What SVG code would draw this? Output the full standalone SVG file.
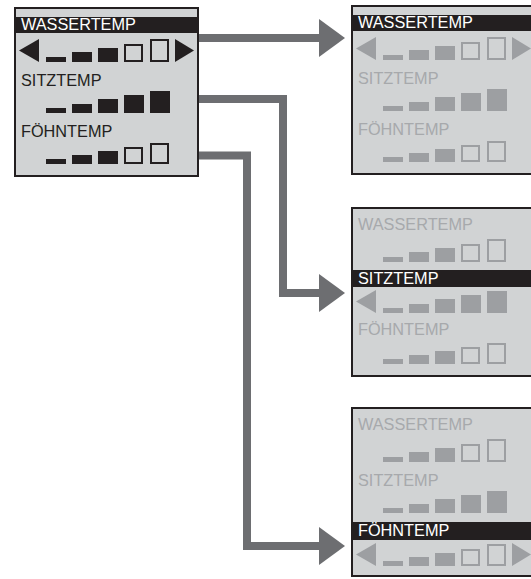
<svg xmlns="http://www.w3.org/2000/svg" width="531" height="579" viewBox="0 0 531 579">
<style>
text{font-family:"Liberation Sans",Arial,sans-serif;font-size:16.3px}
.panel{fill:#d1d3d4;stroke:#231f20;stroke-width:2}
.hdr{fill:#231f20}
.ht{fill:#ffffff}
.dt{fill:#231f20}
.gt{fill:#a7a9ac}
.dk{fill:#231f20}
.dko{fill:none;stroke:#231f20;stroke-width:2}
.gr{fill:#9d9fa2}
.gro{fill:none;stroke:#9d9fa2;stroke-width:2}
.conn{fill:none;stroke:#6d6e71;stroke-width:8;stroke-linejoin:miter}
</style>
<defs>
<marker id="ah" viewBox="0 0 26 38" refX="0" refY="19" markerWidth="26" markerHeight="38" markerUnits="userSpaceOnUse" orient="auto">
<polygon points="0,0 26,19 0,38" fill="#6d6e71"/>
</marker>
</defs>

<g id="connectors">
<path class="conn" d="M199,38 H319" marker-end="url(#ah)"/>
<path class="conn" d="M199,99 H283 V293 H319" marker-end="url(#ah)"/>
<path class="conn" d="M199,155.5 H247 V546 H319" marker-end="url(#ah)"/>
</g>

<g id="panel-main">
<rect class="panel" x="15" y="8" width="183" height="168"/>
<rect class="hdr" x="16" y="17" width="181" height="16"/>
<text class="ht" x="21" y="30">WASSERTEMP</text>
<polygon class="dk" points="19,50.5 39,39 39,62"/>
<rect class="dk" x="46" y="57" width="20" height="5"/>
<rect class="dk" x="72" y="52" width="20" height="10"/>
<rect class="dk" x="98" y="48" width="20" height="14"/>
<rect class="dko" x="125" y="45" width="17" height="16"/>
<rect class="dko" x="151" y="40" width="17" height="21"/>
<polygon class="dk" points="175,39 175,62 194,50.5"/>
<text class="dt" x="21" y="86">SITZTEMP</text>
<rect class="dk" x="46" y="108" width="20" height="5"/>
<rect class="dk" x="72" y="104" width="20" height="9"/>
<rect class="dk" x="98" y="99" width="20" height="14"/>
<rect class="dk" x="124" y="95" width="20" height="18"/>
<rect class="dk" x="150" y="91" width="20" height="22"/>
<text class="dt" x="21" y="137">FÖHNTEMP</text>
<rect class="dk" x="46" y="159" width="20" height="5"/>
<rect class="dk" x="72" y="155" width="20" height="9"/>
<rect class="dk" x="98" y="151" width="20" height="13"/>
<rect class="dko" x="125" y="148" width="17" height="15"/>
<rect class="dko" x="151" y="144" width="17" height="19"/>
</g>

<g id="panel-wasser" transform="translate(337,-2)">
<rect class="panel" x="15" y="8" width="183" height="168"/>
<rect class="hdr" x="16" y="17" width="181" height="16"/>
<text class="ht" x="21" y="30">WASSERTEMP</text>
<polygon class="gr" points="19,50.5 39,39 39,62"/>
<rect class="gr" x="46" y="57" width="20" height="5"/>
<rect class="gr" x="72" y="52" width="20" height="10"/>
<rect class="gr" x="98" y="48" width="20" height="14"/>
<rect class="gro" x="125" y="45" width="17" height="16"/>
<rect class="gro" x="151" y="40" width="17" height="21"/>
<polygon class="gr" points="175,39 175,62 194,50.5"/>
<text class="gt" x="21" y="86">SITZTEMP</text>
<rect class="gr" x="46" y="108" width="20" height="5"/>
<rect class="gr" x="72" y="104" width="20" height="9"/>
<rect class="gr" x="98" y="99" width="20" height="14"/>
<rect class="gr" x="124" y="95" width="20" height="18"/>
<rect class="gr" x="150" y="91" width="20" height="22"/>
<text class="gt" x="21" y="137">FÖHNTEMP</text>
<rect class="gr" x="46" y="159" width="20" height="5"/>
<rect class="gr" x="72" y="155" width="20" height="9"/>
<rect class="gr" x="98" y="151" width="20" height="13"/>
<rect class="gro" x="125" y="148" width="17" height="15"/>
<rect class="gro" x="151" y="144" width="17" height="19"/>
</g>

<g id="panel-sitz" transform="translate(337,200)">
<rect class="panel" x="15" y="8" width="183" height="168"/>
<text class="gt" x="21" y="30">WASSERTEMP</text>
<rect class="gr" x="46" y="57" width="20" height="5"/>
<rect class="gr" x="72" y="52" width="20" height="10"/>
<rect class="gr" x="98" y="48" width="20" height="14"/>
<rect class="gro" x="125" y="45" width="17" height="16"/>
<rect class="gro" x="151" y="40" width="17" height="21"/>
<rect class="hdr" x="16" y="70" width="181" height="17"/>
<text class="ht" x="21" y="84">SITZTEMP</text>
<polygon class="gr" points="19,101.5 39,90 39,113"/>
<rect class="gr" x="46" y="108" width="20" height="5"/>
<rect class="gr" x="72" y="104" width="20" height="9"/>
<rect class="gr" x="98" y="99" width="20" height="14"/>
<rect class="gr" x="124" y="95" width="20" height="18"/>
<rect class="gr" x="150" y="91" width="20" height="22"/>
<text class="gt" x="21" y="135">FÖHNTEMP</text>
<rect class="gr" x="46" y="159" width="20" height="5"/>
<rect class="gr" x="72" y="155" width="20" height="9"/>
<rect class="gr" x="98" y="151" width="20" height="13"/>
<rect class="gro" x="125" y="148" width="17" height="15"/>
<rect class="gro" x="151" y="144" width="17" height="19"/>
</g>

<g id="panel-foehn" transform="translate(337,400)">
<rect class="panel" x="15" y="8" width="183" height="168"/>
<text class="gt" x="21" y="30">WASSERTEMP</text>
<rect class="gr" x="46" y="57" width="20" height="5"/>
<rect class="gr" x="72" y="52" width="20" height="10"/>
<rect class="gr" x="98" y="48" width="20" height="14"/>
<rect class="gro" x="125" y="45" width="17" height="16"/>
<rect class="gro" x="151" y="40" width="17" height="21"/>
<text class="gt" x="21" y="86">SITZTEMP</text>
<rect class="gr" x="46" y="108" width="20" height="5"/>
<rect class="gr" x="72" y="104" width="20" height="9"/>
<rect class="gr" x="98" y="99" width="20" height="14"/>
<rect class="gr" x="124" y="95" width="20" height="18"/>
<rect class="gr" x="150" y="91" width="20" height="22"/>
<rect class="hdr" x="16" y="122" width="181" height="18"/>
<text class="ht" x="21" y="136">FÖHNTEMP</text>
<polygon class="gr" points="19,154.5 39,143 39,166"/>
<rect class="gr" x="46" y="161" width="20" height="5"/>
<rect class="gr" x="72" y="157" width="20" height="9"/>
<rect class="gr" x="98" y="153" width="20" height="13"/>
<rect class="gro" x="125" y="150" width="17" height="15"/>
<rect class="gro" x="151" y="145" width="17" height="20"/>
<polygon class="gr" points="175,143 175,166 194,154.5"/>
</g>
</svg>
